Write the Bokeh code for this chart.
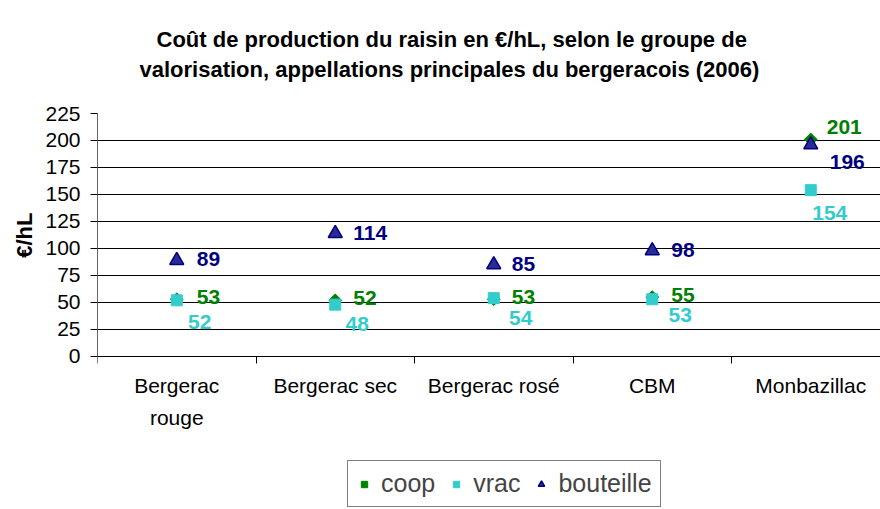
import math
from bokeh.plotting import figure
from bokeh.models import (Range1d, FixedTicker, Legend, LegendItem, ColumnDataSource, Title, Grid)
from bokeh.core.properties import value
from bokeh.embed import file_html
from bokeh.resources import INLINE

# ---- data ----
categories = ["Bergerac\nrouge", "Bergerac sec", "Bergerac rosé", "CBM", "Monbazillac"]
coop = [53, 52, 53, 55, 201]
vrac = [52, 48, 54, 53, 154]
bouteille = [89, 114, 85, 98, 196]
y_ticks = [0, 25, 50, 75, 100, 125, 150, 175, 200, 225]
series_names = ["coop", "vrac", "bouteille"]
title_line1 = "Coût de production du raisin en €/hL, selon le groupe de"
title_line2 = "valorisation, appellations principales du bergeracois (2006)"
y_label = "€/hL"

# ---- label offsets (screen px) ----
coop_dx = [20, 18, 18, 19, 16]
coop_dy = [-2, -2, -2, -2, -12]
vrac_dx = [23, 22, 27, 28, 19]
vrac_dy = [22, 19, 20, 16, 23]
bout_dx = [20, 18, 18, 19, 19]
bout_dy = [-1, 0, -1, -1, 17]

FONT = "'Liberation Sans', Arial, sans-serif"
GREEN = "#008000"
CYAN = "#33CCCC"
NAVY = "#000080"

xs = [i + 0.5 for i in range(len(categories))]
y_max = y_ticks[-1]

# frame extends below the value axis so that category labels and legend sit inside it
p = figure(width=880, height=509, frame_width=783, frame_height=396,
           output_backend="svg", toolbar_location=None, title=None,
           x_range=Range1d(0, 4.94), y_range=Range1d(-141.7, y_max),
           min_border_left=97, min_border_right=0, min_border_top=113,
           min_border_bottom=0)
p.background_fill_color = "white"
p.border_fill_color = "white"
p.outline_line_color = None

# y axis
p.yaxis.ticker = FixedTicker(ticks=y_ticks)
p.yaxis.bounds = (0, y_max)
p.yaxis.major_label_text_font = FONT
p.yaxis.major_label_text_font_size = "21px"
p.yaxis.major_label_text_color = "black"
p.yaxis.major_tick_out = 7
p.yaxis.major_tick_in = 0
p.yaxis.minor_tick_out = 0
p.yaxis.minor_tick_in = 0
p.yaxis.major_label_standoff = 10
p.yaxis.axis_line_color = "#666666"
p.yaxis.major_tick_line_color = "black"

# y axis title, placed beside the 0-225 part of the axis
p.add_layout(Title(text=y_label, align="right", offset=99, standoff=12,
                   text_font=FONT, text_font_size="22px", text_font_style="bold",
                   text_color="black"), "left")

# x axis drawn at value 0
p.xaxis.fixed_location = 0
p.xaxis.ticker = FixedTicker(ticks=xs, minor_ticks=list(range(len(categories) + 1)))
p.xaxis.major_label_overrides = {x: c for x, c in zip(xs, categories)}
p.xaxis.major_label_text_font = FONT
p.xaxis.major_label_text_font_size = "21px"
p.xaxis.major_label_text_color = "black"
p.xaxis.major_label_text_line_height = 1.35
p.xaxis.major_tick_out = 0
p.xaxis.major_tick_in = 0
p.xaxis.minor_tick_out = 7
p.xaxis.minor_tick_in = 0
p.xaxis.minor_tick_line_color = "black"
p.xaxis.major_label_standoff = 11
p.xaxis.axis_line_color = "black"

p.xgrid.visible = False
p.ygrid.grid_line_color = "black"
p.ygrid.grid_line_width = 1
# plot-area top border (grey)
p.add_layout(Grid(dimension=1, ticker=FixedTicker(ticks=[y_max]),
                  grid_line_color="#808080", grid_line_width=2))

src = ColumnDataSource(dict(x=xs, coop=coop, vrac=vrac, bout=bouteille,
                            coop_t=[str(v) for v in coop],
                            vrac_t=[str(v) for v in vrac],
                            bout_t=[str(v) for v in bouteille],
                            coop_dx=coop_dx, coop_dy=coop_dy,
                            vrac_dx=vrac_dx, vrac_dy=vrac_dy,
                            bout_dx=bout_dx, bout_dy=bout_dy))

r_coop = p.scatter("x", "coop", source=src, marker="square", angle=math.pi / 4,
                   size=9, fill_color=GREEN, line_color=GREEN)
r_vrac = p.scatter("x", "vrac", source=src, marker="square", size=11,
                   fill_color=CYAN, line_color=CYAN)
r_bout = p.scatter("x", "bout", source=src, marker="triangle", size=14,
                   fill_color="#2B2B95", line_color=NAVY, line_width=1.5)

common = dict(source=src, text_font=value(FONT), text_font_size="21px",
              text_font_style="bold", text_baseline="middle")
p.text("x", "coop", text="coop_t", x_offset="coop_dx", y_offset="coop_dy",
       text_color=GREEN, text_align="left", **common)
p.text("x", "vrac", text="vrac_t", x_offset="vrac_dx", y_offset="vrac_dy",
       text_color=CYAN, text_align="center", **common)
p.text("x", "bout", text="bout_t", x_offset="bout_dx", y_offset="bout_dy",
       text_color=NAVY, text_align="left", **common)

# title: spacer (closest to frame), then line 2, then line 1
title_style = dict(align="left", text_font=FONT, text_font_size="22px",
                   text_font_style="bold", text_color="black")
p.add_layout(Title(text=" ", text_font_size="2px", standoff=26), "above")
p.add_layout(Title(text=title_line2, offset=42, standoff=4, **title_style), "above")
p.add_layout(Title(text=title_line1, offset=59, standoff=2, **title_style), "above")

legend = Legend(items=[LegendItem(label=series_names[0], renderers=[r_coop]),
                       LegendItem(label=series_names[1], renderers=[r_vrac]),
                       LegendItem(label=series_names[2], renderers=[r_bout])],
                orientation="horizontal", location=(250, 2),
                label_text_font=FONT, label_text_font_size="25px",
                border_line_color="black", border_line_width=1,
                padding=8, spacing=13, label_standoff=9,
                glyph_width=16, glyph_height=16, margin=0)
p.add_layout(legend, "center")

open("out.html", "w").write(file_html(p, INLINE))
